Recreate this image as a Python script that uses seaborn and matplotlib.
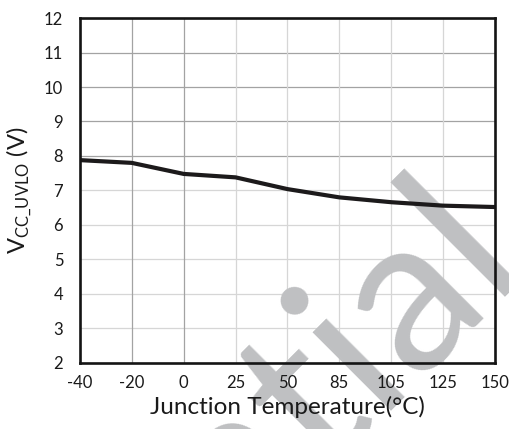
import matplotlib
matplotlib.use("Agg")
import matplotlib.pyplot as plt
import numpy as np
import pandas as pd
import seaborn as sns

# ── Data ─────────────────────────────────────────────────────────────────────
temp_labels = ["-40", "-20", "0", "25", "50", "85", "105", "125", "150"]
vcc_uvlo    = [7.88, 7.80, 7.48, 7.38, 7.04, 6.80, 6.66, 6.56, 6.52]
y_ticks     = [2, 3, 4, 5, 6, 7, 8, 9, 10, 11, 12]

# ── Style ────────────────────────────────────────────────────────────────────
LINE_COLOR  = "#1c1a1b"
GRID_DARK   = "#a3a3a3"
GRID_LIGHT  = "#d6d6d6"
WATERMARK   = "#bfc0c2"

sns.set_theme(style="white")
plt.rcParams["font.family"] = ["Lato", "DejaVu Sans"]
plt.rcParams["mathtext.fontset"] = "custom"
plt.rcParams["mathtext.rm"] = "Lato"

df = pd.DataFrame({"pos": np.arange(len(temp_labels)), "v": vcc_uvlo})

fig = plt.figure(figsize=(5.09, 4.29), dpi=100)
ax = fig.add_axes([0.157, 0.154, 0.8155, 0.804])

sns.lineplot(data=df, x="pos", y="v", ax=ax, color=LINE_COLOR,
             linewidth=3.0, zorder=2)

# gridlines drawn by hand so the watermark can sit between grid and labels
for y in y_ticks:
    ax.axhline(y, color=GRID_DARK if y >= 8 else GRID_LIGHT, linewidth=0.9, zorder=0.5)
for i, lab in enumerate(temp_labels):
    ax.axvline(i, color=GRID_DARK if lab in ("-20", "0") else GRID_LIGHT,
               linewidth=0.9, zorder=0.5)

ax.set_xlim(0, len(temp_labels) - 1)
ax.set_ylim(min(y_ticks), max(y_ticks))
ax.set_xticks(df["pos"])
ax.set_xticklabels(temp_labels)
ax.set_yticks(y_ticks)
ax.tick_params(axis="both", length=0, labelsize=12, colors="#1a1a1a")
ax.tick_params(axis="y", pad=12)
ax.tick_params(axis="x", pad=9)

ax.set_xlabel("Junction Temperature(°C)", fontsize=17.5, color="#1a1a1a", labelpad=3)
ax.set_ylabel(r"V$_{\mathregular{CC\_UVLO}}$ (V)", fontsize=17, color="#1a1a1a", labelpad=7)

for sp in ax.spines.values():
    sp.set_visible(True)
    sp.set_color("#141414")
    sp.set_linewidth(1.9)
    sp.set_zorder(2.5)

ax.xaxis.set_zorder(3)
ax.yaxis.set_zorder(3)

# "Confidential" watermark, mostly running off the page
ax.text(1.037, 0.385, "Confidential", transform=fig.transFigure,
        fontsize=158, color=WATERMARK, rotation=45, rotation_mode="anchor",
        ha="right", va="baseline", zorder=1, clip_on=False)

fig.savefig("out.png", dpi=100)
